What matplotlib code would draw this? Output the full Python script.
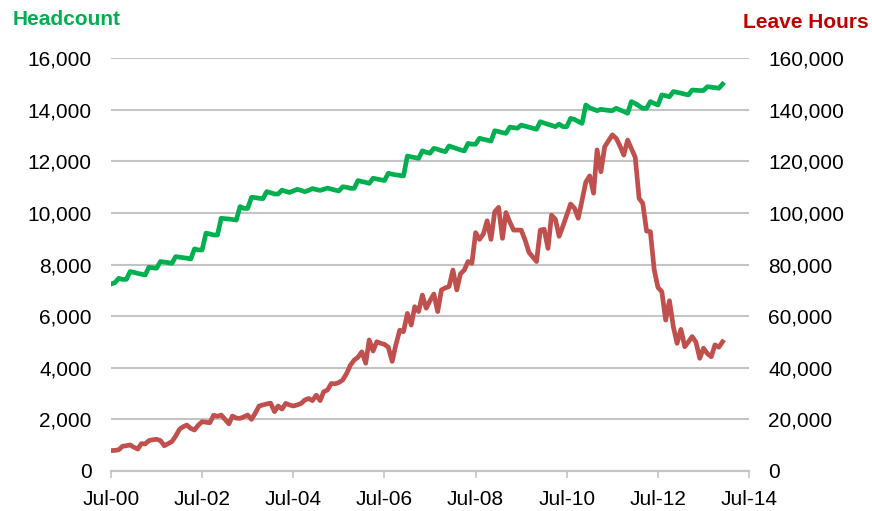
import matplotlib
matplotlib.use("Agg")
import matplotlib.pyplot as plt
import pandas as pd
from matplotlib.ticker import FuncFormatter, MultipleLocator
import matplotlib.dates as mdates

plt.rcParams["font.family"] = ["Liberation Sans", "DejaVu Sans"]

# monthly series starting Jul-2000
start = "2000-07-01"

headcount = [
    7250, 7300, 7470, 7430, 7430, 7730, 7700, 7660, 7630, 7600,
    7900, 7880, 7860, 8120, 8100, 8080, 8050, 8310, 8290, 8270,
    8250, 8220, 8610, 8570, 8570, 9220, 9190, 9150, 9150, 9800,
    9780, 9770, 9750, 9730, 10250, 10180, 10180, 10610, 10600, 10570,
    10560, 10830, 10790, 10740, 10740, 10890, 10840, 10800, 10860, 10920,
    10880, 10830, 10880, 10950, 10910, 10880, 10920, 10970, 10930, 10890,
    10860, 11020, 11000, 10960, 10960, 11260, 11220, 11190, 11150, 11350,
    11320, 11290, 11260, 11540, 11510, 11480, 11460, 11440, 12210, 12180,
    12150, 12120, 12410, 12360, 12320, 12510, 12470, 12420, 12380, 12600,
    12550, 12500, 12450, 12410, 12700, 12670, 12670, 12900, 12860, 12830,
    12790, 13190, 13160, 13120, 13090, 13330, 13310, 13290, 13410, 13370,
    13330, 13290, 13250, 13540, 13490, 13440, 13400, 13350, 13450, 13350,
    13350, 13670, 13630, 13550, 13480, 14190, 14080, 14020, 13970, 14020,
    14000, 13980, 13970, 14060, 14000, 13940, 13870, 14320, 14250, 14150,
    14060, 14060, 14320, 14250, 14190, 14580, 14550, 14510, 14710, 14680,
    14650, 14610, 14580, 14770, 14760, 14750, 14750, 14900, 14880, 14860,
    14840, 15000,
]

leave_hours_k = [
    7.9, 8.0, 8.2, 9.6, 9.8, 10.1, 9.2, 8.5, 10.6, 10.5,
    11.8, 12.1, 12.3, 11.8, 9.8, 10.6, 11.4, 13.5, 16.2, 17.2,
    17.8, 16.5, 15.9, 17.8, 19.1, 18.9, 18.7, 21.6, 21.2, 21.7,
    20.0, 18.3, 21.3, 20.5, 20.4, 21.0, 21.7, 20.0, 22.5, 25.2,
    25.6, 26.0, 26.3, 23.0, 25.2, 24.0, 26.2, 25.6, 25.2, 25.6,
    26.2, 27.5, 28.1, 27.3, 29.4, 27.3, 30.7, 31.4, 33.9, 33.8,
    34.3, 35.3, 37.8, 41.0, 43.0, 44.1, 46.2, 41.8, 50.8, 46.5,
    50.1, 49.5, 49.1, 48.0, 42.5, 49.0, 54.6, 54.0, 61.1, 56.6,
    63.7, 61.8, 68.2, 63.1, 66.0, 68.6, 61.8, 70.2, 71.0, 71.5,
    77.9, 70.2, 76.4, 77.9, 81.2, 80.5, 92.4, 89.8, 91.9, 97.0,
    89.8, 100.5, 102.2, 90.2, 100.2, 96.5, 93.4, 93.4, 93.4, 89.6,
    84.8, 83.0, 81.2, 93.4, 93.7, 86.3, 99.2, 97.6, 91.0, 95.0,
    99.2, 103.5, 101.9, 98.0, 105.0, 112.0, 114.4, 107.7, 124.5, 116.0,
    125.7, 128.0, 130.3, 129.0, 126.0, 122.5, 128.3, 125.0, 121.6, 105.7,
    103.8, 93.0, 92.8, 78.0, 71.2, 69.5, 58.5, 66.0, 56.0, 49.5,
    54.9, 48.2, 50.0, 52.1, 50.0, 43.7, 47.6, 45.5, 44.3, 48.9,
    48.0, 50.1,
]

dates = pd.date_range(start, periods=len(headcount), freq="MS")
leave_hours = [v * 1000 for v in leave_hours_k]

GREEN = "#00B050"
RED = "#C0504D"
GRID = "#C4C4C4"

fig = plt.figure(figsize=(8.72, 5.11), dpi=100)
ax = fig.add_axes([0.1273, 0.0783, 0.7317, 0.8076])
ax2 = ax.twinx()

ax.plot(dates, headcount, color=GREEN, lw=3.4, solid_joinstyle="round", zorder=3)
ax2.plot(dates, leave_hours, color=RED, lw=3.4, solid_joinstyle="round", zorder=3)

ax.set_ylim(0, 16000)
ax2.set_ylim(0, 160000)
ax.yaxis.set_major_locator(MultipleLocator(2000))
ax2.yaxis.set_major_locator(MultipleLocator(20000))
fmt = FuncFormatter(lambda v, _: f"{v:,.0f}")
ax.yaxis.set_major_formatter(fmt)
ax2.yaxis.set_major_formatter(fmt)

ax.set_xlim(pd.Timestamp("2000-07-01"), pd.Timestamp("2014-07-01"))
ticks = pd.date_range("2000-07-01", "2014-07-01", freq="24MS")
ax.set_xticks(ticks)
ax.xaxis.set_major_formatter(mdates.DateFormatter("%b-%y"))

ax.grid(axis="y", color=GRID, lw=1.5)
ax.set_axisbelow(True)
for a in (ax, ax2):
    for s in ("top", "left", "right"):
        a.spines[s].set_visible(False)
    a.spines["bottom"].set_color(GRID)
    a.spines["bottom"].set_linewidth(1.5)

ax.tick_params(axis="y", length=0, pad=14, labelsize=15)
ax2.tick_params(axis="y", length=0, pad=14, labelsize=15)
ax.tick_params(axis="x", length=5, width=1.2, color=GRID, pad=9, labelsize=15)

fig.text(0.014, 0.962, "Headcount", color=GREEN, fontsize=15, fontweight="bold",
         ha="left", va="center")
fig.text(0.996, 0.955, "Leave Hours", color="#C00000", fontsize=15, fontweight="bold",
         ha="right", va="center")

fig.savefig("out.png", dpi=100)
